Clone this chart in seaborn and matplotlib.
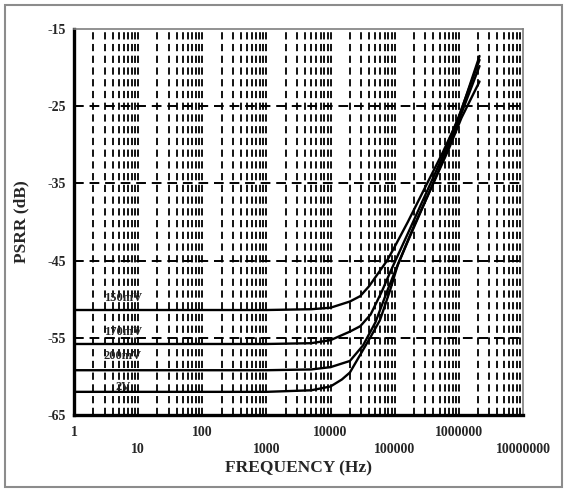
import numpy as np
import pandas as pd
import matplotlib
matplotlib.use("Agg")
import matplotlib.pyplot as plt
import seaborn as sns
from matplotlib.patches import Rectangle

# PSRR vs frequency
freq_150 = [1, 1000, 5000, 10000, 20000, 29000, 40000, 59000, 76000, 100000, 160000, 320000, 560000, 1000000, 2100000]
psrr_150 = [-51.4, -51.4, -51.3, -51.1, -50.3, -49.6, -48.3, -46.3, -45.0, -43.2, -40.0, -35.0, -31.0, -26.5, -18.5]

freq_170 = [1, 1000, 5000, 10000, 20000, 29000, 42000, 63000, 85000, 100000, 160000, 340000, 560000, 1000000, 2100000]
psrr_170 = [-55.8, -55.8, -55.7, -55.3, -54.2, -53.5, -52.0, -49.0, -46.5, -45.2, -41.5, -35.5, -31.5, -26.3, -19.0]

freq_200 = [1, 1000, 5000, 10000, 20000, 32000, 50000, 80000, 100000, 160000, 360000, 600000, 1000000, 2100000]
psrr_200 = [-59.2, -59.2, -59.1, -58.8, -58.0, -56.0, -53.0, -48.5, -46.5, -42.5, -35.8, -31.5, -26.8, -19.8]

freq_2v = [1, 1000, 5000, 10000, 15000, 20000, 42000, 59000, 85000, 112000, 200000, 400000, 700000, 1100000, 2100000]
psrr_2v = [-62.0, -62.0, -61.8, -61.3, -60.4, -59.5, -54.9, -52.7, -48.8, -45.5, -40.5, -35.0, -30.5, -26.5, -21.8]

labels = ["150mV", "170mV", "200mV", "2V"]
label_pos = [(5.8, -49.8), (5.8, -54.2), (5.8, -57.4), (5.8, -61.4)]

x_ticks = [1, 10, 100, 1000, 10000, 100000, 1000000, 10000000]
y_ticks = [-65, -55, -45, -35, -25, -15]

frames = []
for name, f, p in zip(labels, [freq_150, freq_170, freq_200, freq_2v],
                      [psrr_150, psrr_170, psrr_200, psrr_2v]):
    frames.append(pd.DataFrame({"freq": f, "psrr": p, "curve": name}))
df = pd.concat(frames, ignore_index=True)

sns.set_style("white")
plt.rcParams["font.family"] = ["Liberation Serif", "DejaVu Serif"]
plt.rcParams["font.weight"] = "bold"

fig = plt.figure(figsize=(5.67, 4.92), dpi=100)
ax = fig.add_axes([74 / 567, 1 - 415 / 492, 449 / 567, 386 / 492])

# outer grey frame
fig.patches.append(Rectangle((5 / 567, 5 / 492), 557 / 567, 482 / 492, transform=fig.transFigure,
                             fill=False, edgecolor="#8c8c8c", linewidth=1.5))

ax.set_xscale("log")
ax.set_xlim(1, 10000000)
ax.set_ylim(-65, -15)

# grid: dashed verticals at every 1..9 per decade, dashed horizontals
for dec in range(7):
    for m in range(1, 10):
        v = m * 10 ** dec
        if v == 1:
            continue
        ax.axvline(v, color="black", linewidth=1.3, linestyle=(0, (4, 2.5)), zorder=1)
for yv in [-25, -35, -45, -55]:
    ax.axhline(yv, color="black", linewidth=1.4, linestyle=(0, (5, 3)), zorder=1)

sns.lineplot(data=df, x="freq", y="psrr", hue="curve", palette=["black"] * 4,
             estimator=None, sort=False, linewidth=1.7, legend=False, ax=ax, zorder=3)

for name, (lx, ly) in zip(labels, label_pos):
    ax.text(lx, ly, name, fontsize=9, fontweight="bold", ha="center", va="center", zorder=4)

ax.set_xticks(x_ticks)
ax.set_xticklabels([str(t) if i % 2 == 0 else "\n" + str(t) for i, t in enumerate(x_ticks)])
ax.minorticks_off()
ax.set_yticks(y_ticks)
ax.set_yticklabels([str(t) for t in y_ticks])
ax.tick_params(axis="x", length=0, pad=8, labelsize=10)
ax.tick_params(axis="y", length=0, pad=6, labelsize=10)
for lab in ax.get_xticklabels():
    lab.set_linespacing(1.35)
    lab.set_fontweight("bold")
for lab in ax.get_yticklabels():
    lab.set_fontweight("bold")

ax.set_xlabel("FREQUENCY (Hz)", fontsize=12.5, fontweight="bold")
ax.set_ylabel("PSRR (dB)", fontsize=12.5, fontweight="bold")
ax.xaxis.set_label_coords(0.5, -0.117)
ax.yaxis.set_label_coords(-0.10, 0.5)

for side in ["left", "bottom"]:
    ax.spines[side].set_color("black")
    ax.spines[side].set_linewidth(2.4)
for side in ["top", "right"]:
    ax.spines[side].set_color("#7f7f7f")
    ax.spines[side].set_linewidth(1.2)

fig.savefig("out.png", dpi=100)
